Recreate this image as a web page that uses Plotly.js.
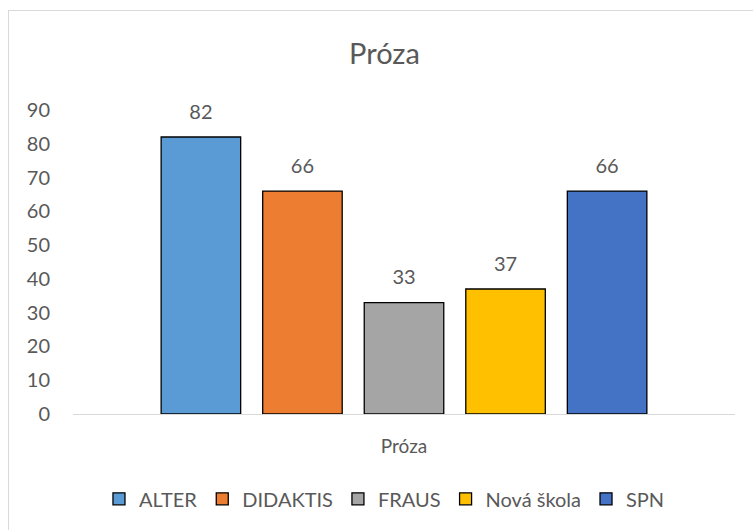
<!DOCTYPE html>
<html>
<head>
<meta charset="utf-8">
<script src="https://cdn.plot.ly/plotly-3.0.1.min.js"></script>
<style>
html,body{margin:0;padding:0;background:#fff;}
#wrap{position:absolute;left:0;top:0;width:753px;height:530px;overflow:hidden;}
#frame{position:absolute;left:8px;top:10px;width:800px;height:600px;border-left:1px solid #d9d9d9;border-top:1px solid #d9d9d9;pointer-events:none;}
#chart{position:absolute;left:0;top:0;width:753px;height:530px;}
</style>
</head>
<body>
<div id="wrap"><div id="chart"></div><div id="frame"></div></div>
<script>
const categories = ["Próza"];
const seriesNames = ["ALTER", "DIDAKTIS", "FRAUS", "Nová škola", "SPN"];
const seriesValues = [[82], [66], [33], [37], [66]];
const seriesColors = ["#5B9BD5", "#ED7D31", "#A5A5A5", "#FFC000", "#4472C4"];
const yTicks = [0, 10, 20, 30, 40, 50, 60, 70, 80, 90];

const FONT = "Lato, 'Open Sans', sans-serif";
const TXT = "#595959";
const GAP = 0.233;

const barTraces = seriesNames.map((name, i) => ({
  type: "bar",
  name: name,
  x: categories,
  y: seriesValues[i],
  marker: {color: seriesColors[i], line: {color: "#000000", width: 1.3}},
  hoverinfo: "none"
}));

const labelTraces = seriesNames.map((name, i) => ({
  type: "scatter",
  mode: "markers+text",
  name: name + " label",
  showlegend: false,
  x: categories,
  y: seriesValues[i],
  text: seriesValues[i].map(v => String(v)),
  textposition: "top center",
  textfont: {family: FONT, size: 20, color: TXT},
  marker: {size: 20, opacity: 0, color: "#ffffff"},
  cliponaxis: false,
  hoverinfo: "none"
}));

const layout = {
  width: 753,
  height: 530,
  margin: {l: 73, r: 18, t: 110, b: 114},
  paper_bgcolor: "#ffffff",
  plot_bgcolor: "#ffffff",
  font: {family: FONT, color: TXT, size: 20},
  title: {text: "Próza", font: {family: FONT, size: 29, color: TXT}, x: 0.4705, xref: "paper", xanchor: "center", y: 1, yref: "container", yanchor: "top", pad: {t: 44}},
  barmode: "group",
  bargap: GAP,
  bargroupgap: 0.217,
  scattermode: "group",
  scattergap: GAP,
  showlegend: true,
  legend: {orientation: "h", x: 0.4705, xanchor: "center", y: -0.215, yanchor: "top", font: {family: FONT, size: 20, color: TXT}, traceorder: "normal"},
  xaxis: {
    type: "category",
    showline: true, linecolor: "#d9d9d9", linewidth: 1.3,
    showgrid: false, zeroline: false, ticks: "",
    ticklabelstandoff: 15,
    tickfont: {family: FONT, size: 19, color: TXT}
  },
  yaxis: {
    range: [0, 90],
    tickvals: yTicks,
    ticktext: yTicks.map(String),
    showgrid: false, zeroline: false, showline: false, ticks: "",
    ticklabelstandoff: 22,
    tickfont: {family: FONT, size: 20, color: TXT}
  }
};

Plotly.newPlot("chart", barTraces.concat(labelTraces), layout, {displayModeBar: false, staticPlot: true});
</script>
</body>
</html>
